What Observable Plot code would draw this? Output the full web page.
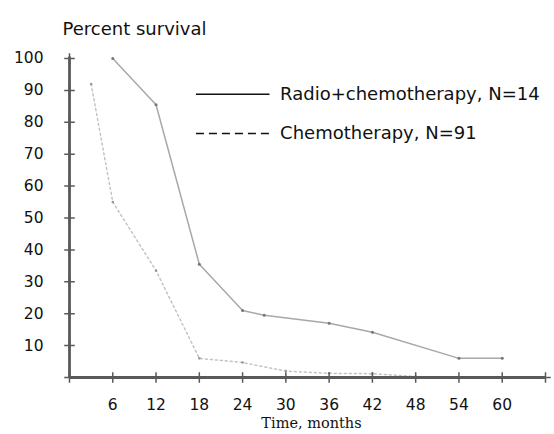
<!DOCTYPE html>
<html>
<head>
<meta charset="utf-8">
<script src="https://cdn.jsdelivr.net/npm/d3@7"></script>
<script src="https://cdn.jsdelivr.net/npm/@observablehq/plot@0.6"></script>
<style>
  html, body { margin: 0; padding: 0; background: #fff; }
  #chart svg { display: block; }
</style>
</head>
<body>
<div id="chart"></div>
<script>
// Data
const radioMonths   = [6, 12, 18, 24, 27, 36, 42, 54, 60];
const radioSurvival = [100, 85.5, 35.5, 21, 19.5, 17, 14.2, 6, 6];
const chemoMonths   = [3, 6, 12, 18, 24, 30, 36, 42, 48];
const chemoSurvival = [92, 55, 33.5, 6, 4.7, 2, 1.3, 1.2, 0.3];
const yTicks = [10, 20, 30, 40, 50, 60, 70, 80, 90, 100];
const xTickLabels = [6, 12, 18, 24, 30, 36, 42, 48, 54, 60];
const xTickMarks = [0, 6, 12, 18, 24, 30, 36, 42, 48, 54, 60, 66];
const legendLabels = ["Radio+chemotherapy, N=14", "Chemotherapy, N=91"];
const legendY = [88.8, 76.5];
const legendX = [17.6, 27.8, 29.2];
const yTitle = "Percent survival";
const xTitle = "Time, months";

const radio = radioMonths.map((m, i) => ({month: m, survival: radioSurvival[i]}));
const chemo = chemoMonths.map((m, i) => ({month: m, survival: chemoSurvival[i]}));

const axisColor = "#5a5a5a";

const chart = Plot.plot({
  width: 554,
  height: 434,
  marginLeft: 69,
  marginRight: 9,
  marginTop: 58,
  marginBottom: 57,
  style: {fontFamily: "DejaVu Sans", fontSize: "15px", color: "#111", background: "#fff"},
  x: {domain: [0, 66]},
  y: {domain: [0, 100]},
  marks: [
    Plot.axisY({ticks: yTicks, tickSize: 0, tickPadding: 26, label: null, fontSize: 15.5, fill: "#111"}),
    Plot.axisX({ticks: xTickLabels, tickSize: 0, tickPadding: 21, label: null, fontSize: 15.5, fill: "#111"}),
    // data lines
    Plot.line(radio, {x: "month", y: "survival", stroke: "#a8a8a8", strokeWidth: 1.5}),
    Plot.line(chemo, {x: "month", y: "survival", stroke: "#c4c4c4", strokeWidth: 1.5, strokeDasharray: "2,3"}),
    Plot.dot(radio, {x: "month", y: "survival", r: 1.5, fill: "#777"}),
    Plot.dot(chemo, {x: "month", y: "survival", r: 1.3, fill: "#999"}),
    // axis lines
    Plot.ruleX([0], {y1: 0, y2: 100.5, stroke: axisColor, strokeWidth: 2.8}),
    Plot.ruleY([0], {x1: 0, x2: 66, stroke: axisColor, strokeWidth: 2.8}),
    Plot.dot(yTicks, {x: 0, y: d => d, symbol: "plus", r: 3.5, stroke: axisColor, strokeWidth: 1.5}),
    Plot.dot(xTickMarks, {x: d => d, y: 0, symbol: "plus", r: 3.5, stroke: axisColor, strokeWidth: 1.5}),
    // titles
    Plot.text([yTitle], {frameAnchor: "top-left", dx: -7, dy: -36, textAnchor: "start", fontSize: 18, fill: "#111"}),
    Plot.text([xTitle], {frameAnchor: "bottom", dx: 4, dy: 50, fontSize: 14.5, fontFamily: "DejaVu Serif", fill: "#111"}),
    // legend
    Plot.ruleY([legendY[0]], {x1: legendX[0], x2: legendX[1], stroke: "#111", strokeWidth: 1.6}),
    Plot.ruleY([legendY[1]], {x1: legendX[0], x2: legendX[1], stroke: "#111", strokeWidth: 1.6, strokeDasharray: "8,5"}),
    Plot.text([0, 1], {x: legendX[2], y: i => legendY[i], text: i => legendLabels[i], textAnchor: "start", fontSize: 18, fill: "#111"})
  ]
});
document.getElementById("chart").appendChild(chart);
</script>
</body>
</html>
